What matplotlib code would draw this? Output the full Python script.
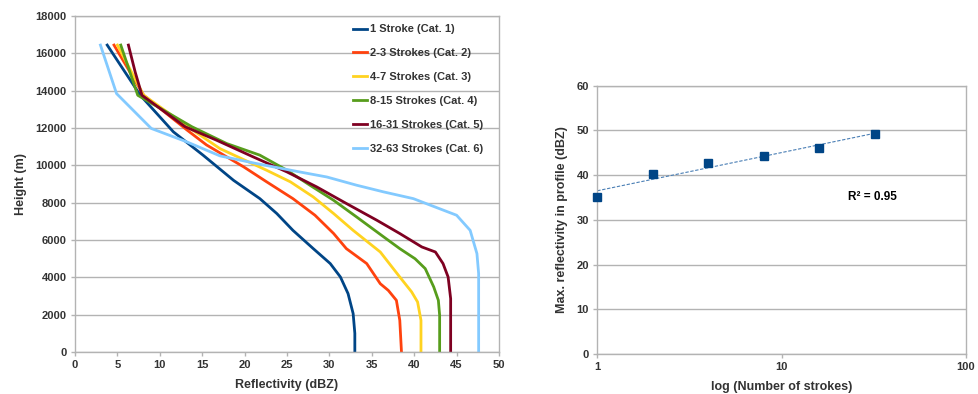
import numpy as np
import matplotlib
matplotlib.use("Agg")
import matplotlib.pyplot as plt

plt.rcParams['font.family'] = ['Liberation Sans', 'DejaVu Sans']

# ---- Data: vertical reflectivity profiles (dBZ, height km) ----
labels = ["1 Stroke (Cat. 1)", "2-3 Strokes (Cat. 2)", "4-7 Strokes (Cat. 3)",
          "8-15 Strokes (Cat. 4)", "16-31 Strokes (Cat. 5)", "32-63 Strokes (Cat. 6)"]
colors = ["#004586", "#ff420e", "#ffd320", "#579d1c", "#7e0021", "#83caff"]

cat1_z = [3.8, 7.7, 11.6, 15.1, 18.7, 21.8, 23.8, 25.7, 28.1, 30.1, 31.3, 32.2, 32.8, 33.0, 33.0]
cat1_h = [16450, 13760, 11800, 10550, 9200, 8220, 7420, 6520, 5540, 4740, 4020, 3130, 2060, 1000, 0]

cat2_z = [4.6, 8.1, 13.2, 15.5, 19.9, 22.6, 25.7, 28.3, 30.5, 32.0, 34.4, 36.0, 36.95, 37.9, 38.3, 38.5]
cat2_h = [16450, 13760, 11900, 11100, 9920, 9120, 8220, 7330, 6350, 5540, 4740, 3660, 3300, 2770, 1700, 0]

cat3_z = [5.0, 8.1, 13.6, 17.1, 22.6, 25.4, 28.1, 30.5, 32.8, 36.0, 38.3, 39.7, 40.4, 40.8, 40.8]
cat3_h = [16450, 13760, 11980, 10900, 9740, 9120, 8310, 7420, 6520, 5360, 4020, 3220, 2680, 1700, 0]

cat4_z = [5.4, 7.4, 13.8, 17.9, 21.8, 25.0, 27.7, 30.5, 33.2, 36.4, 38.3, 40.1, 41.3, 42.3, 42.85, 43.0, 43.0]
cat4_h = [16450, 13760, 12070, 11170, 10550, 9740, 8940, 8130, 7240, 6170, 5540, 5000, 4470, 3490, 2770, 1970, 0]

cat5_z = [6.3, 7.1, 7.9, 13.0, 16.7, 21.0, 25.0, 28.5, 32.0, 35.6, 38.3, 40.9, 42.5, 43.4, 44.0, 44.3, 44.3]
cat5_h = [16450, 15000, 13760, 12070, 11350, 10460, 9650, 8850, 7960, 7060, 6350, 5630, 5360, 4740, 4020, 2860, 0]

cat6_z = [3.0, 4.9, 9.0, 13.2, 17.1, 21.4, 26.5, 29.7, 33.2, 36.4, 39.9, 41.9, 45.0, 46.6, 47.4, 47.6, 47.6]
cat6_h = [16450, 13850, 11980, 11260, 10510, 10100, 9650, 9380, 8940, 8580, 8220, 7870, 7330, 6520, 5270, 4200, 0]

profiles_z = [cat1_z, cat2_z, cat3_z, cat4_z, cat5_z, cat6_z]
profiles_h = [cat1_h, cat2_h, cat3_h, cat4_h, cat5_h, cat6_h]

# ---- Data: max reflectivity vs number of strokes ----
strokes = [1, 2, 4, 8, 16, 32]
max_refl = [35.0, 40.3, 42.8, 44.2, 46.0, 49.3]

grid_c = "#b3b3b3"
text_c = "#333333"

fig = plt.figure(figsize=(9.79, 3.94), dpi=100)

# ---------------- Left panel ----------------
ax1 = fig.add_axes([0.0766, 0.1066, 0.4331, 0.8524])
for z, h, c, lab in zip(profiles_z, profiles_h, colors, labels):
    ax1.plot(z, h, color=c, lw=2.0, label=lab, solid_joinstyle='round')
ax1.set_xlim(0, 50)
ax1.set_ylim(0, 18000)
ax1.set_xticks(np.arange(0, 51, 5))
ax1.set_yticks(np.arange(0, 18001, 2000))
ax1.yaxis.grid(True, color=grid_c, lw=1.0)
ax1.set_axisbelow(True)
ax1.set_xlabel("Reflectivity (dBZ)", fontsize=9, fontweight='bold', color=text_c, labelpad=6)
ax1.set_ylabel("Height (m)", fontsize=9, fontweight='bold', color=text_c, labelpad=6)
leg = ax1.legend(loc='upper left', bbox_to_anchor=(0.64, 0.995), frameon=False,
                 fontsize=8, handlelength=1.3, handletextpad=0.2, labelspacing=1.25,
                 borderaxespad=0.2)
for t in leg.get_texts():
    t.set_color(text_c)
    t.set_fontweight('bold')

# ---------------- Right panel ----------------
ax2 = fig.add_axes([0.6101, 0.1015, 0.3766, 0.681])
ax2.set_xscale('log')
coef = np.polyfit(np.log10(strokes), max_refl, 1)
xfit = np.array([1, 32])
ax2.plot(xfit, np.polyval(coef, np.log10(xfit)), color="#4a7fb5", lw=0.8, ls=(0, (3, 1.5)))
ax2.plot(strokes, max_refl, ls='none', marker='s', ms=5.5, color="#004586",
         clip_on=False, zorder=5)
ax2.set_xlim(1, 100)
ax2.set_ylim(0, 60)
ax2.set_yticks(np.arange(0, 61, 10))
ax2.set_xticks([1, 10, 100])
ax2.set_xticklabels(["1", "10", "100"])
ax2.minorticks_off()
ax2.yaxis.grid(True, color=grid_c, lw=1.0)
ax2.set_axisbelow(True)
ax2.text(22.9, 35.2, "R² = 0.95", fontsize=8.5, fontweight='bold', color='black',
         ha='left', va='center')
ax2.set_xlabel("log (Number of strokes)", fontsize=9, fontweight='bold', color=text_c, labelpad=6)
ax2.set_ylabel("Max. reflectivity in profile (dBZ)", fontsize=9, fontweight='bold', color=text_c,
               labelpad=6)

for ax in (ax1, ax2):
    for s in ax.spines.values():
        s.set_color(grid_c)
        s.set_linewidth(1.0)
    ax.tick_params(axis='both', colors=grid_c, length=3, width=1, labelsize=8, pad=3)
    for lbl in ax.get_xticklabels() + ax.get_yticklabels():
        lbl.set_color(text_c)
        lbl.set_fontweight('bold')

fig.savefig("out.png", dpi=100)
